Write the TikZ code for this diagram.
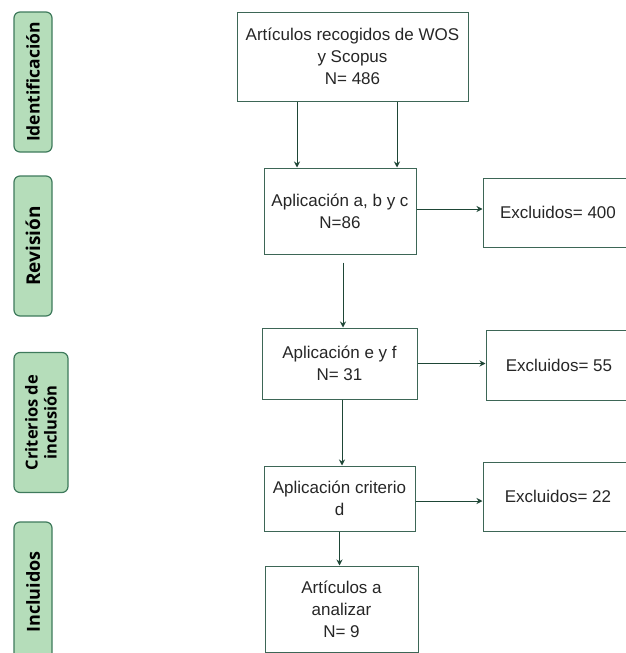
\documentclass[tikz,border=0pt]{standalone}
\usepackage{fontspec}
\setmainfont{Liberation Sans}
\newfontfamily\tabfont{Open Sans}
\usetikzlibrary{arrows.meta,positioning,calc}
\definecolor{tabfill}{HTML}{B5DDBA}
\definecolor{tabline}{HTML}{3E7A5C}
\definecolor{boxline}{HTML}{3D6656}
\definecolor{arrcol}{HTML}{1E4636}
\definecolor{txt}{HTML}{262626}
\begin{document}
\begin{tikzpicture}[x=1pt,y=-1pt,
  tab/.style={draw=tabline,line width=1.2pt,fill=tabfill,rounded corners=6pt,rotate=90,
    text=black,align=center,inner sep=0pt,minimum width=140pt},
  box/.style={draw=boxline,line width=1pt,align=center,inner sep=0pt,text=txt,
    font=\fontsize{17}{22}\selectfont},
  arr/.style={draw=arrcol,line width=1pt,-{Stealth[length=6pt,width=6pt]}}]
\useasboundingbox (0,0) rectangle (626,653);
% tabs
\node[tab,minimum height=38pt,font=\tabfont\bfseries\fontsize{17.5}{19}\selectfont] (t1) at (33,82) {Identificación};
\node[tab,minimum height=38pt,font=\tabfont\bfseries\fontsize{19}{20}\selectfont] (t2) at (33,246) {Revisión};
\node[tab,minimum height=54pt,font=\tabfont\bfseries\fontsize{16.5}{19}\selectfont] (t3) at (41,422.5) {Criterios de\\inclusión};
\node[tab,minimum height=38pt,font=\tabfont\bfseries\fontsize{18}{20}\selectfont] (t4) at (33,592) {Incluidos};
% boxes
\node[box,minimum width=231pt,minimum height=89pt] (top) at (352.5,56.5) {Artículos recogidos de WOS\\y Scopus\\N= 486};
\node[box,minimum width=152pt,minimum height=86pt] (abc) at (340,211) {Aplicación a, b y c\\N=86};
\node[box,minimum width=150pt,minimum height=69pt] (e400) at (558,212.5) {Excluidos= 400};
\node[box,minimum width=155pt,minimum height=71pt] (ef) at (339.5,363.5) {Aplicación e y f\\N= 31};
\node[box,minimum width=146pt,minimum height=70pt] (e55) at (559,365) {Excluidos= 55};
\node[box,minimum width=151pt,minimum height=65pt] (d) at (339.5,498.5) {Aplicación criterio\\d};
\node[box,minimum width=150pt,minimum height=69pt] (e22) at (558,496.5) {Excluidos= 22};
\node[box,minimum width=153pt,minimum height=86pt] (art) at (341.5,609) {Artículos a\\analizar\\N= 9};
% arrows
\draw[arr] ([xshift=-55.5pt]top.south) -- ([xshift=-55.5pt]top.south |- abc.north);
\draw[arr] ([xshift=44.5pt]top.south) -- ([xshift=44.5pt]top.south |- abc.north);
\draw[arr] ([yshift=2pt]abc.east) -- ([yshift=2pt]abc.east -| e400.west);
\draw[arr] ([xshift=3pt,yshift=-8pt]abc.south) -- ([xshift=3pt]abc.south |- ef.north);
\draw[arr] ([xshift=2.5pt]ef.south) -- ([xshift=2.5pt]ef.south |- d.north);
\draw[arr] (ef.east) -- (ef.east -| e55.west);
\draw[arr] ([yshift=-2.5pt]d.east) -- ([yshift=-2.5pt]d.east -| e22.west);
\draw[arr] (d.south) -- (d.south |- art.north);
\end{tikzpicture}
\end{document}
